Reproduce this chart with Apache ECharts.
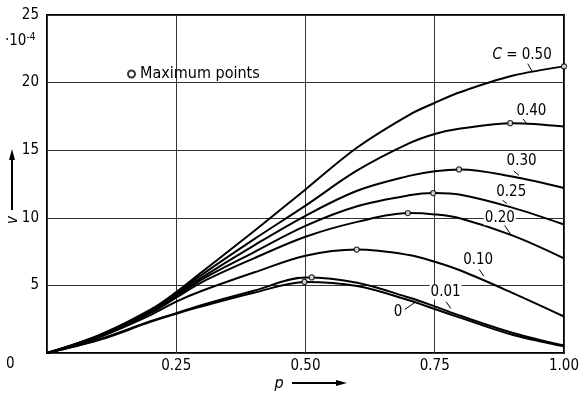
<!DOCTYPE html>
<html>
<head>
<meta charset="utf-8">
<script src="https://cdn.jsdelivr.net/npm/echarts@6/dist/echarts.min.js"></script>
<style>
  html, body { margin: 0; padding: 0; background: #fff; }
  #chart { width: 582px; height: 400px; }
</style>
</head>
<body>
<div id="chart"></div>
<script>
const pValues = [0, 0.1, 0.2, 0.25, 0.3, 0.4, 0.5, 0.6, 0.7, 0.75, 0.8, 0.9, 1.0];

// v (·10^-4) for each concentration C
const c050 = [0, 1.3, 3.2, 4.5, 6.0, 9.0, 12.1, 15.2, 17.6, 18.5, 19.3, 20.5, 21.2];
const c040 = [0, 1.3, 3.1, 4.4, 5.8, 8.4, 10.9, 13.5, 15.5, 16.2, 16.6, 17.0, 16.75];
const c030 = [0, 1.25, 3.05, 4.3, 5.6, 7.95, 10.15, 12.0, 13.1, 13.45, 13.58, 13.05, 12.2];
const c025 = [0, 1.25, 3.0, 4.2, 5.45, 7.45, 9.4, 10.85, 11.66, 11.83, 11.7, 10.75, 9.5];
const c020 = [0, 1.2, 2.95, 4.1, 5.25, 7.0, 8.6, 9.7, 10.35, 10.25, 9.95, 8.7, 7.0];
const c010 = [0, 1.15, 2.8, 3.8, 4.6, 5.95, 7.2, 7.65, 7.25, 6.75, 6.1, 4.45, 2.7];
const c001 = [0, 1.0, 2.35, 2.95, 3.55, 4.6, 5.58, 5.2, 4.1, 3.45, 2.75, 1.5, 0.55];
const c000 = [0, 0.95, 2.3, 2.9, 3.45, 4.45, 5.26, 4.95, 3.9, 3.25, 2.6, 1.35, 0.5];

const curveNames = ['0.50', '0.40', '0.30', '0.25', '0.20', '0.10', '0.01', '0'];
const curveValues = [c050, c040, c030, c025, c020, c010, c001, c000];

// maximum points
const maxP = [1.0, 0.896, 0.797, 0.747, 0.698, 0.599, 0.512, 0.498];
const maxV = [21.2, 17.0, 13.58, 11.83, 10.35, 7.65, 5.59, 5.26];

// curve labels and their leader lines
const labelText = ['{i|C} = 0.50', '0.40', '0.30', '0.25', '0.20', '0.10', '0.01', '0'];
const labelP = [0.919, 0.937, 0.918, 0.898, 0.876, 0.834, 0.771, 0.679];
const labelV = [22.0, 17.9, 14.18, 11.93, 10.0, 6.89, 4.52, 3.05];
const leaderFromP = [0.930, 0.921, 0.903, 0.881, 0.885, 0.836, 0.772, 0.692];
const leaderFromV = [21.4, 17.3, 13.45, 11.29, 9.45, 6.18, 3.79, 3.22];
const leaderToP = [0.939, 0.928, 0.913, 0.890, 0.898, 0.845, 0.781, 0.711];
const leaderToV = [20.8, 16.95, 13.14, 11.05, 8.71, 5.68, 3.30, 3.72];

const xTickLabels = ['', '0.25', '0.50', '0.75', '1.00'];
const yTickLabels = ['', '5', '10', '15', '20', '25'];

const FONT = "'DejaVu Sans Condensed', 'Liberation Sans Narrow', 'Roboto', sans-serif";

const chart = echarts.init(document.getElementById('chart'));

const curveSeries = curveNames.map((name, k) => ({
  name: 'C=' + name,
  type: 'line',
  data: pValues.map((p, i) => [p, curveValues[k][i]]),
  smooth: 0.35,
  symbol: 'none',
  lineStyle: { color: '#000', width: 2 },
  z: 3,
  silent: true
}));

const option = {
  backgroundColor: '#fff',
  animation: false,
  textStyle: { fontFamily: FONT, color: '#000' },
  grid: {
    left: 47,
    right: 14,
    top: 15,
    bottom: 47,
    show: true,
    borderColor: '#000',
    borderWidth: 2
  },
  legend: {
    data: ['Maximum points'],
    left: 122,
    top: 61,
    itemWidth: 7,
    itemHeight: 7,
    itemGap: 4,
    textStyle: { fontFamily: FONT, fontSize: 16, color: '#000' }
  },
  xAxis: {
    type: 'value',
    min: 0,
    max: 1,
    interval: 0.25,
    axisLine: { show: false },
    axisTick: { show: false },
    axisLabel: {
      margin: 6,
      fontSize: 15,
      color: '#000',
      fontFamily: FONT,
      formatter: v => xTickLabels[Math.round(v / 0.25)]
    },
    splitLine: { show: true, lineStyle: { color: '#333', width: 1 } }
  },
  yAxis: {
    type: 'value',
    min: 0,
    max: 25,
    interval: 5,
    axisLine: { show: false },
    axisTick: { show: false },
    axisLabel: {
      margin: 8,
      fontSize: 15,
      color: '#000',
      fontFamily: FONT,
      formatter: v => yTickLabels[Math.round(v / 5)]
    },
    splitLine: { show: true, lineStyle: { color: '#333', width: 1 } }
  },
  graphic: [
    // origin label
    { type: 'text', left: 6, top: 357, style: { text: '0', font: '15px ' + FONT, fill: '#000' } },
    // ·10^-4 scale note
    {
      type: 'text', left: 5, top: 32,
      style: {
        text: '·10{s|-4}',
        font: '15px ' + FONT,
        fill: '#000',
        rich: { s: { fontSize: 10, verticalAlign: 'top', padding: [0, 0, 8, 0], fontFamily: FONT } }
      }
    },
    // y axis title with arrow
    { type: 'text', x: 13, y: 220, rotation: Math.PI / 2, style: { text: 'v', font: 'italic 15px ' + FONT, fill: '#000', align: 'center', verticalAlign: 'middle' } },
    { type: 'line', shape: { x1: 12, y1: 210, x2: 12, y2: 158 }, style: { stroke: '#000', lineWidth: 2 } },
    { type: 'polygon', shape: { points: [[12, 149], [9, 160], [15, 160]] }, style: { fill: '#000' } },
    // x axis title with arrow
    { type: 'text', x: 279, y: 384, style: { text: 'p', font: 'italic 16px ' + FONT, fill: '#000', align: 'center', verticalAlign: 'middle' } },
    { type: 'line', shape: { x1: 292, y1: 383, x2: 338, y2: 383 }, style: { stroke: '#000', lineWidth: 2 } },
    { type: 'polygon', shape: { points: [[347, 383], [336, 380], [336, 386]] }, style: { fill: '#000' } }
  ],
  series: [
    ...curveSeries,
    {
      name: 'leaders',
      type: 'lines',
      coordinateSystem: 'cartesian2d',
      silent: true,
      z: 4,
      lineStyle: { color: '#000', width: 1, opacity: 1 },
      data: leaderFromP.map((p, i) => ({ coords: [[p, leaderFromV[i]], [leaderToP[i], leaderToV[i]]] }))
    },
    {
      name: 'curve labels',
      type: 'scatter',
      symbolSize: 0,
      itemStyle: { color: '#000' },
      silent: true,
      z: 5,
      data: labelP.map((p, i) => [p, labelV[i]]),
      label: {
        show: true,
        position: 'inside',
        fontSize: 15,
        fontFamily: FONT,
        color: '#000',
        opacity: 1,
        textBorderWidth: 0,
        backgroundColor: '#fff',
        padding: [0, 1],
        formatter: params => labelText[params.dataIndex],
        rich: { i: { fontStyle: 'italic', fontSize: 15, fontFamily: FONT, color: '#000' } }
      }
    },
    {
      name: 'Maximum points',
      type: 'scatter',
      symbol: 'circle',
      symbolSize: 5,
      z: 6,
      itemStyle: { color: '#fff', borderColor: '#000', borderWidth: 1.2 },
      data: maxP.map((p, i) => [p, maxV[i]])
    }
  ]
};

chart.setOption(option);
</script>
</body>
</html>
